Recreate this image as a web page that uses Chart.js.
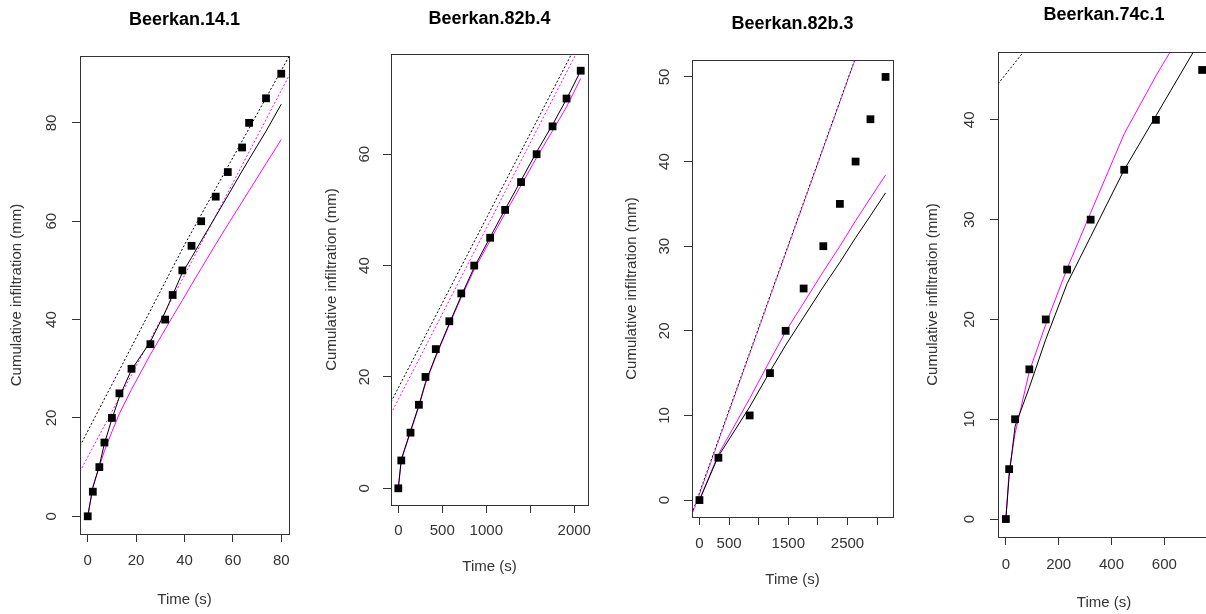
<!DOCTYPE html>
<html>
<head>
<meta charset="utf-8">
<script src="https://cdn.jsdelivr.net/npm/chart.js@4/dist/chart.umd.min.js"></script>
<style>
  html, body { margin: 0; padding: 0; width: 1206px; height: 614px; overflow: hidden; background: #fff; }
  canvas { position: absolute; top: 0; }
</style>
</head>
<body>
<script>
// values: cumulative infiltration (mm) vs time (s)
const p1Time = [0, 2.1, 4.8, 6.9, 10, 13.1, 18.1, 25.9, 32, 35.1, 39.1, 42.9, 46.9, 52.9, 57.9, 63.8, 66.7, 73.7, 80]
const p1Obs = [0, 5, 10, 15, 20, 25, 30, 35, 40, 45, 50, 55, 60, 65, 70, 75, 80, 85, 90]
const p1FitBlack = [0, 5.8, 10.3, 14.8, 19.8, 24.3, 29.8, 35.5, 41.5, 45, 49.5, 52.6, 56, 61, 65.2, 70.2, 72.6, 78.3, 83.8]
const p1FitMagenta = [0, 6.0, 10.1, 13.3, 17.2, 20.9, 25.8, 32.9, 38, 40.6, 43.9, 47.1, 50.4, 55.3, 59.3, 63.9, 66.2, 71.7, 76.6]
const p1AsymTime = [-3.2, 40, 83.2]
const p1AsymBlack = [14.3, 55.2, 93.5]
const p1AsymMagenta = [9.1, 49, 89.6]
const p1XTicks = [0, 20, 40, 60, 80]
const p1XLabels = ['0', '20', '40', '60', '80']
const p1YTicks = [0, 20, 40, 60, 80]

const p2Time = [0, 34, 139, 234, 309, 426, 580, 716, 863, 1044, 1214, 1395, 1572, 1753, 1912, 2073]
const p2Obs = [0, 5, 10, 15, 20, 25, 30, 35, 40, 45, 50, 55, 60, 65, 70, 75]
const p2FitBlack = [0, 5.2, 10.3, 14.9, 19.0, 23.8, 29.6, 34.6, 39.7, 45.1, 50.1, 55.3, 60.4, 65.3, 69.9, 75.0]
const p2FitMagenta = [0, 5.0, 10.1, 14.7, 18.8, 23.6, 29.4, 34.3, 39.3, 44.5, 49.4, 54.4, 59.4, 64.2, 68.5, 73.6]
const p2AsymTime = [-82.9, 2155.9]
const p2AsymBlack = [15.5, 83.7]
const p2AsymMagenta = [13.4, 82.2]
const p2XTicks = [0, 500, 1000, 1500, 2000]
const p2XLabels = ['0', '500', '1000', '', '2000']
const p2YTicks = [0, 20, 40, 60]

const p3Time = [0, 320, 848, 1191, 1455, 1759, 2091, 2371, 2636, 2887, 3142]
const p3Obs = [0, 5, 10, 15, 20, 25, 30, 35, 40, 45, 50]
const p3FitBlack = [0, 5.2, 11.0, 15.2, 18.3, 21.6, 25.2, 28.1, 31.0, 33.6, 36.3]
const p3FitMagenta = [0, 5.4, 12.0, 16.5, 19.9, 23.3, 27.0, 30.0, 33.0, 35.7, 38.4]
const p3AsymTime = [-125.7, 2800]
const p3AsymBlack = [-1.6, 55.5]
const p3AsymMagenta = [-1.8, 55.4]
const p3XTicks = [0, 500, 1000, 1500, 2000, 2500, 3000]
const p3XLabels = ['0', '500', '', '1500', '', '2500', '']
const p3YTicks = [0, 10, 20, 30, 40, 50]

const p4Time = [0, 12.5, 35, 89, 151, 232, 321, 448, 568, 743]
const p4Obs = [0, 5, 10, 15, 20, 25, 30, 35, 40, 45]
const p4FitBlack = [0, 4.3, 9.3, 13.2, 18.0, 23.6, 28.3, 35.0, 40.4, 48.3]
const p4FitMagenta = [0, 4.8, 8.6, 14.8, 19.5, 25.1, 30.7, 38.6, 44.4, 52.2]
const p4AsymTime = [-29.7, 66.5, 200]
const p4AsymBlack = [43.6, 46.8, 51.2]
const p4XTicks = [0, 200, 400, 600]
const p4XLabels = ['0', '200', '400', '600']
const p4YTicks = [0, 10, 20, 30, 40]

Chart.defaults.font.family = "'Liberation Sans', Arial, sans-serif"

const H = 614
const AXIS_COLOR = '#333'
const TICK_LEN = 8

// R pads each axis by 4% of the data range
const rRange = (vals) => {
  const lo = Math.min(...vals)
  const hi = Math.max(...vals)
  const pad = (hi - lo) * 0.04
  return [lo - pad, hi + pad]
}

const pts = (xs, ys) => xs.map((x, i) => ({ x, y: ys[i] }))

// plot frame, like box() in R
const boxPlugin = {
  id: 'rbox',
  afterDraw: (chart) => {
    const { ctx, chartArea: a } = chart
    ctx.save()
    ctx.strokeStyle = AXIS_COLOR
    ctx.lineWidth = 1
    ctx.strokeRect(Math.round(a.left) + 0.5, Math.round(a.top) + 0.5,
      Math.round(a.right) - Math.round(a.left), Math.round(a.bottom) - Math.round(a.top))
    ctx.restore()
  }
}

const panels = [
  {
    title: 'Beerkan.14.1', time: p1Time, obs: p1Obs, black: p1FitBlack, magenta: p1FitMagenta,
    asymTime: p1AsymTime, asymBlack: p1AsymBlack, asymMagenta: p1AsymMagenta,
    xTicks: p1XTicks, xLabels: p1XLabels, yTicks: p1YTicks,
    box: { left: 80, right: 289, top: 56, bottom: 534 },
    titleY: 19.6, xLabelY: 561, xTitleY: 600, yLabelX: 51.7, yTitleX: 17.3
  },
  {
    title: 'Beerkan.82b.4', time: p2Time, obs: p2Obs, black: p2FitBlack, magenta: p2FitMagenta,
    asymTime: p2AsymTime, asymBlack: p2AsymBlack, asymMagenta: p2AsymMagenta,
    xTicks: p2XTicks, xLabels: p2XLabels, yTicks: p2YTicks,
    box: { left: 391, right: 588, top: 54, bottom: 505 },
    titleY: 18.8, xLabelY: 531, xTitleY: 566.5, yLabelX: 365, yTitleX: 331.7
  },
  {
    title: 'Beerkan.82b.3', time: p3Time, obs: p3Obs, black: p3FitBlack, magenta: p3FitMagenta,
    asymTime: p3AsymTime, asymBlack: p3AsymBlack, asymMagenta: p3AsymMagenta,
    xTicks: p3XTicks, xLabels: p3XLabels, yTicks: p3YTicks,
    box: { left: 692, right: 893, top: 60, bottom: 517 },
    titleY: 24.3, xLabelY: 544, xTitleY: 580, yLabelX: 665, yTitleX: 631.7
  },
  {
    title: 'Beerkan.74c.1', time: p4Time, obs: p4Obs, black: p4FitBlack, magenta: p4FitMagenta,
    asymTime: p4AsymTime, asymBlack: p4AsymBlack, asymMagenta: null,
    xTicks: p4XTicks, xLabels: p4XLabels, yTicks: p4YTicks,
    box: { left: 998, right: 1210, top: 52, bottom: 537 },
    titleY: 14.9, xLabelY: 565, xTitleY: 603, yLabelX: 970, yTitleX: 933
  }
]

const makePanel = (p) => {
  const canvasLeft = p.box.left - 80
  const canvasWidth = p.box.right + 20 - canvasLeft
  const canvas = document.createElement('canvas')
  canvas.width = canvasWidth
  canvas.height = H
  canvas.style.left = canvasLeft + 'px'
  canvas.style.width = canvasWidth + 'px'
  canvas.style.height = H + 'px'
  document.body.appendChild(canvas)

  const [xMin, xMax] = rRange(p.time)
  const [yMin, yMax] = rRange(p.obs)
  const titleLine = 18 * 1.2
  const labelFont = { size: 15 }
  const halfWidest = 8.34 // half the width of a two-digit label at 15px

  const line = (xs, ys, color, dash) => ({
    data: pts(xs, ys),
    showLine: true,
    borderColor: color,
    borderWidth: 1,
    borderDash: dash || [],
    pointRadius: 0,
    tension: 0,
    fill: false
  })

  const datasets = [
    {
      data: pts(p.time, p.obs),
      pointStyle: 'rect',
      pointRadius: 5.5,
      backgroundColor: '#000',
      borderWidth: 0,
      showLine: false
    },
    line(p.time, p.black, '#000'),
    line(p.time, p.magenta, '#ff00ff'),
    line(p.asymTime, p.asymBlack, '#000', [2, 2])
  ]
  if (p.asymMagenta) datasets.push(line(p.asymTime, p.asymMagenta, '#ff00ff', [2, 2]))

  return new Chart(canvas, {
    type: 'scatter',
    data: { datasets },
    options: {
      responsive: false,
      animation: false,
      events: [],
      layout: { padding: { left: 0, right: 20, top: 0, bottom: 0 } },
      plugins: {
        legend: { display: false },
        tooltip: { enabled: false },
        title: {
          display: true,
          text: p.title,
          fullSize: false,
          color: '#000',
          font: { size: 18, weight: 'bold' },
          padding: { top: p.titleY - titleLine / 2, bottom: p.box.top - p.titleY - titleLine / 2 }
        }
      },
      scales: {
        x: {
          type: 'linear',
          position: 'bottom',
          min: xMin,
          max: xMax,
          bounds: 'data',
          afterBuildTicks: (s) => { s.ticks = p.xTicks.map(v => ({ value: v })) },
          afterFit: (s) => { s.height = H - p.box.bottom },
          grid: { drawOnChartArea: false, drawTicks: true, tickLength: TICK_LEN, color: AXIS_COLOR },
          border: { display: false },
          ticks: {
            autoSkip: false,
            maxRotation: 0,
            color: AXIS_COLOR,
            font: labelFont,
            padding: p.xLabelY - p.box.bottom - TICK_LEN - 9,
            callback: (v, i) => p.xLabels[i]
          },
          title: {
            display: true,
            text: 'Time (s)',
            color: AXIS_COLOR,
            font: labelFont,
            padding: { top: 0, bottom: H - p.xTitleY - 9 }
          }
        },
        y: {
          type: 'linear',
          position: 'left',
          min: yMin,
          max: yMax,
          bounds: 'data',
          afterBuildTicks: (s) => { s.ticks = p.yTicks.map(v => ({ value: v })) },
          afterFit: (s) => { s.width = p.box.left - canvasLeft },
          grid: { drawOnChartArea: false, drawTicks: true, tickLength: TICK_LEN, color: AXIS_COLOR },
          border: { display: false },
          ticks: {
            autoSkip: false,
            minRotation: 90,
            maxRotation: 90,
            crossAlign: 'center',
            color: AXIS_COLOR,
            font: labelFont,
            padding: p.box.left - TICK_LEN - halfWidest - p.yLabelX
          },
          title: {
            display: true,
            text: 'Cumulative infiltration (mm)',
            color: AXIS_COLOR,
            font: labelFont,
            padding: { top: p.yTitleX - canvasLeft - 9, bottom: 0 }
          }
        }
      }
    },
    plugins: [boxPlugin]
  })
}

panels.forEach(makePanel)
</script>
</body>
</html>
